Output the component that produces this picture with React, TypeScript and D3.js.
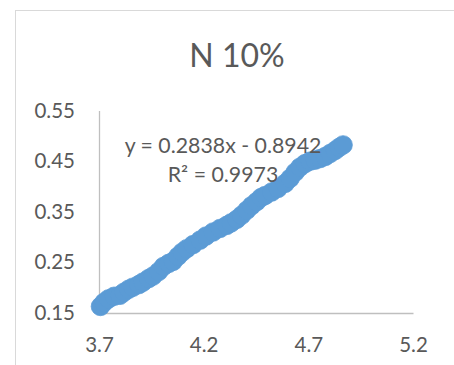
import { useEffect, useRef } from 'react'
import * as d3 from 'd3'

const title = 'N 10%'
const equation = 'y = 0.2838x - 0.8942'
const rSquared = 'R² = 0.9973'

const xValues = [
  3.707, 3.724, 3.746, 3.772, 3.8, 3.819, 3.842, 3.862, 3.89, 3.91, 3.937, 3.958,
  3.985, 4.008, 4.033, 4.054, 4.077, 4.097, 4.119, 4.149, 4.183, 4.211, 4.245, 4.278,
  4.31, 4.331, 4.358, 4.381, 4.406, 4.429, 4.453, 4.474, 4.493, 4.525, 4.555, 4.589,
  4.613, 4.637, 4.66, 4.684, 4.708, 4.732, 4.756, 4.78, 4.804, 4.828, 4.847, 4.866,
]
const yValues = [
  0.163, 0.171, 0.178, 0.183, 0.185, 0.191, 0.197, 0.201, 0.206, 0.211, 0.218, 0.223,
  0.232, 0.242, 0.248, 0.252, 0.262, 0.27, 0.277, 0.285, 0.294, 0.302, 0.31, 0.317,
  0.323, 0.328, 0.335, 0.343, 0.353, 0.362, 0.37, 0.378, 0.382, 0.389, 0.396, 0.406,
  0.416, 0.428, 0.438, 0.445, 0.45, 0.452, 0.455, 0.459, 0.465, 0.471, 0.477, 0.482,
]
const xTicks = [3.7, 4.2, 4.7, 5.2]
const yTicks = [0.15, 0.25, 0.35, 0.45, 0.55]

const FONT = 'Lato, "Open Sans", sans-serif'
const TXT = '#595959'
const BLUE = '#5B9BD5'

export default function App() {
  const ref = useRef<SVGSVGElement>(null)

  useEffect(() => {
    const svg = d3.select(ref.current!)
    svg.selectAll('*').remove()
    const W = 454, H = 365

    svg.append('rect').attr('width', W).attr('height', H).attr('fill', '#fff')
    // chart frame (only top/left visible, rest runs off the picture)
    svg.append('rect').attr('x', 15.5).attr('y', 10.5).attr('width', 600).attr('height', 500)
      .attr('fill', 'none').attr('stroke', '#d9d9d9').attr('stroke-width', 1)

    const x = d3.scaleLinear().domain([3.7, 5.2]).range([99, 413])
    const y = d3.scaleLinear().domain([0.15, 0.55]).range([313, 110.5])

    svg.append('text').attr('x', 237).attr('y', 66.5).attr('text-anchor', 'middle')
      .attr('fill', TXT).attr('font-family', FONT).attr('font-size', 32).text(title)

    const xAx = svg.append('g').attr('transform', `translate(0,${y(0.15)})`)
      .call(d3.axisBottom(x).tickValues(xTicks).tickSize(0).tickPadding(24).tickFormat(d3.format('.1f')))
    const yAx = svg.append('g').attr('transform', `translate(${x(3.7)},0)`)
      .call(d3.axisLeft(y).tickValues(yTicks).tickSize(0).tickPadding(24).tickFormat(d3.format('.2f')))
    ;[xAx, yAx].forEach(a => {
      a.select('.domain').attr('stroke', '#bfbfbf').attr('stroke-width', 1.3)
      a.selectAll('text').attr('fill', TXT).attr('font-family', FONT).attr('font-size', 20.5)
    })

    svg.append('g').selectAll('circle').data(xValues).join('circle')
      .attr('cx', d => x(d)).attr('cy', (_, i) => y(yValues[i])).attr('r', 9.3)
      .attr('fill', BLUE).attr('stroke', BLUE).attr('stroke-width', 0.75)

    svg.append('text').attr('x', 223).attr('y', 153).attr('text-anchor', 'middle')
      .attr('fill', TXT).attr('font-family', FONT).attr('font-size', 21.3).text(equation)
    svg.append('text').attr('x', 223).attr('y', 181.5).attr('text-anchor', 'middle')
      .attr('fill', TXT).attr('font-family', FONT).attr('font-size', 21.3).text(rSquared)
  }, [])

  return (
    <div style={{ position: 'absolute', left: 0, top: 0 }}>
      <svg ref={ref} width={454} height={365} style={{ display: 'block' }} />
    </div>
  )
}
